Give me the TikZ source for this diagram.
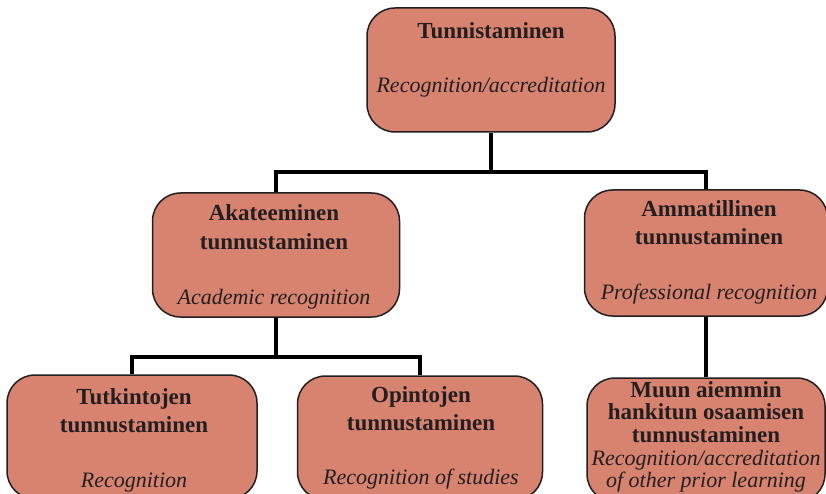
\documentclass[tikz,border=0pt]{standalone}
\usepackage{fontspec}
\setmainfont{Liberation Serif}
\usetikzlibrary{positioning}

\definecolor{boxfill}{RGB}{215,131,111}
\definecolor{inkgray}{RGB}{35,31,32}

\tikzset{
  recbox/.style={draw=inkgray, line width=1.5pt, fill=boxfill, rounded corners=28pt, inner sep=0pt},
  titletext/.style={anchor=base, inner sep=0pt, text=inkgray, font=\fontsize{23}{23}\selectfont\bfseries},
  subtext/.style={anchor=base, inner sep=0pt, text=inkgray, font=\fontsize{22}{22}\selectfont\itshape},
  link/.style={line width=4.5pt, black}
}

\begin{document}
\begin{tikzpicture}[x=1pt,y=-1pt]
    \useasboundingbox (0,0) rectangle (826,494);
    \clip (0,0) rectangle (826,494);

    % Top level
    \node[recbox, minimum width=248pt, minimum height=124pt] (tun) at (491,70) {};
    \node[titletext] (tunT) at (491,39) {Tunnistaminen};
    \node[subtext] (tunS) at (491,93) {Recognition/accreditation};

    % Academic recognition
    \node[recbox, minimum width=247pt, minimum height=124pt] (aka) at (276,255) {};
    \node[titletext] (akaT1) at (274,221) {Akateeminen};
    \node[titletext] (akaT2) at (274,249) {tunnustaminen};
    \node[subtext] (akaS) at (274,304) {Academic recognition};

    % Professional recognition
    \node[recbox, minimum width=243pt, minimum height=126pt] (amm) at (706,253) {};
    \node[titletext] (ammT1) at (709,217) {Ammatillinen};
    \node[titletext] (ammT2) at (709,244) {tunnustaminen};
    \node[subtext] (ammS) at (709,299) {Professional recognition};

    % Bottom row
    \node[recbox, minimum width=250pt, minimum height=124pt] (tut) at (132,437) {};
    \node[titletext] (tutT1) at (134,404) {Tutkintojen};
    \node[titletext] (tutT2) at (134,432) {tunnustaminen};
    \node[subtext] (tutS) at (134,487) {Recognition};

    \node[recbox, minimum width=245pt, minimum height=124pt] (opi) at (420,438) {};
    \node[titletext] (opiT1) at (421,402) {Opintojen};
    \node[titletext] (opiT2) at (421,430) {tunnustaminen};
    \node[subtext] (opiS) at (421,484) {Recognition of studies};

    \node[recbox, minimum width=238pt, minimum height=124pt] (muu) at (706,440) {};
    \node[titletext] (muuT1) at (706,397) {Muun aiemmin};
    \node[titletext] (muuT2) at (706,419) {hankitun osaamisen};
    \node[titletext] (muuT3) at (706,442) {tunnustaminen};
    \node[subtext] (muuS1) at (706,465) {Recognition/accreditation};
    \node[subtext] (muuS2) at (706,487) {of other prior learning};

    % Connectors
    \coordinate (j1) at (tun.south |- 0,172);
    \coordinate (j2) at (aka.south |- 0,357);
    \draw[link] (tun.south) -- (j1);
    \draw[link] (aka.north) |- (j1) -| (amm.north);
    \draw[link] (aka.south) -- (j2);
    \draw[link] (tut.north) |- (j2) -| (opi.north);
    \draw[link] (amm.south) -- (muu.north);
\end{tikzpicture}
\end{document}
